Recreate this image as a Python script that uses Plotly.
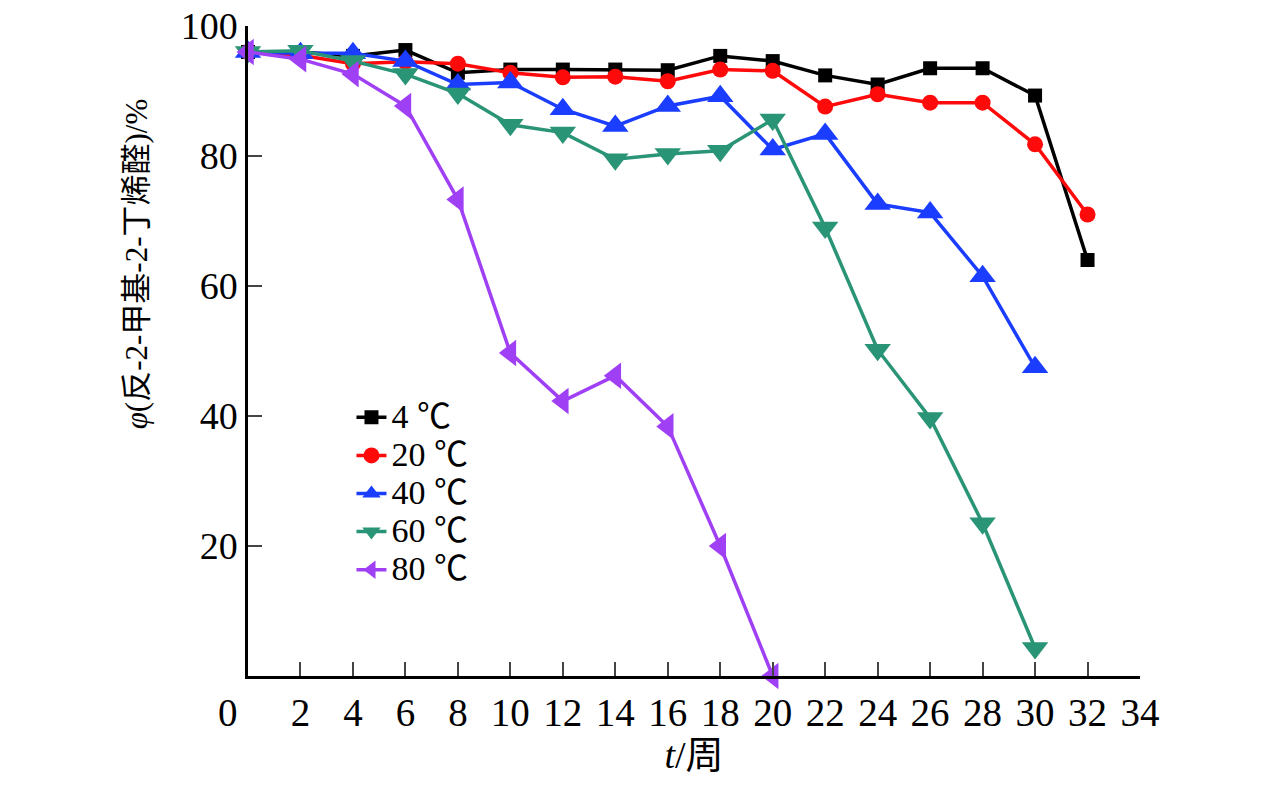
import plotly.graph_objects as go

# storage time (weeks)
weeks = [0, 2, 4, 6, 8, 10, 12, 14, 16, 18, 20, 22, 24, 26, 28, 30, 32]

# content of trans-2-methyl-2-butenal (%) at each temperature
t4 = [96.0, 96.0, 95.4, 96.3, 92.8, 93.3, 93.3, 93.3, 93.2, 95.4, 94.6, 92.4, 91.0, 93.5, 93.5, 89.3, 64.0]
t20 = [96.0, 95.5, 94.2, 94.5, 94.2, 92.8, 92.1, 92.2, 91.5, 93.3, 93.1, 87.6, 89.5, 88.2, 88.2, 81.8, 71.0]
t40 = [96.0, 95.8, 95.8, 94.6, 91.0, 91.3, 87.2, 84.6, 87.7, 89.2, 81.0, 83.4, 72.6, 71.3, 61.5, 47.5]
t60 = [96.0, 96.2, 94.6, 92.6, 89.6, 84.8, 83.6, 79.5, 80.3, 80.8, 85.6, 69.0, 50.2, 39.7, 23.5, 4.3]
t80 = [96.0, 94.9, 92.6, 87.7, 73.3, 49.7, 42.3, 46.2, 38.4, 20.0, 0.0]

series = [
    ("4 ℃", t4, "#000000", "square", 14),
    ("20 ℃", t20, "#ff0a0a", "circle", 16),
    ("40 ℃", t40, "#1a3dff", "triangle-up", 23),
    ("60 ℃", t60, "#2a9476", "triangle-down", 23),
    ("80 ℃", t80, "#a040f5", "triangle-left", 23),
]

x_ticks = list(range(2, 35, 2))
y_ticks = [20, 40, 60, 80, 100]

serif = "Liberation Serif, Times New Roman, Noto Sans CJK SC, serif"

fig = go.Figure()
for name, vals, color, symbol, size in series:
    fig.add_trace(go.Scatter(
        x=weeks[:len(vals)], y=vals,
        name='<span style="font-size:34px">%s</span>' % name,
        mode="lines+markers",
        line=dict(color=color, width=3.5),
        marker=dict(symbol=symbol, size=size, color=color),
        cliponaxis=False,
    ))

fig.update_layout(
    width=1276, height=786,
    paper_bgcolor="white", plot_bgcolor="white",
    margin=dict(l=240, r=144, t=18, b=118),
    font=dict(family=serif, size=34, color="black"),
    showlegend=True,
    legend=dict(x=0.116, y=0.435, xanchor="left", yanchor="top",
                bgcolor="rgba(0,0,0,0)", font=dict(size=27),
                tracegroupgap=0),
    xaxis=dict(range=[0, 34], tickvals=x_ticks, ticks="inside", ticklen=14,
               tickwidth=2, showline=True, linewidth=2.5, linecolor="black",
               showgrid=False, zeroline=False, tickfont=dict(size=39),
               ticklabeloverflow="allow", automargin=False,
               title=dict(text="<i>t</i>/周", font=dict(size=38), standoff=8)),
    yaxis=dict(range=[0, 100], tickvals=y_ticks, ticks="inside", ticklen=14,
               tickwidth=2, showline=True, linewidth=2.5, linecolor="black",
               showgrid=False, zeroline=False, tickfont=dict(size=38),
               ticklabeloverflow="allow", automargin=False),
    annotations=[
        dict(text="0", xref="paper", yref="paper", x=-0.022, y=-0.02,
             xanchor="center", yanchor="top", showarrow=False,
             font=dict(size=39)),
        dict(text="<i>φ</i>(反-2-甲基-2-丁烯醛)/%", xref="paper", yref="paper",
             x=-0.124, y=0.634, xanchor="center", yanchor="middle",
             textangle=-90, showarrow=False, font=dict(size=31)),
    ],
)

fig.write_html("out.html")
